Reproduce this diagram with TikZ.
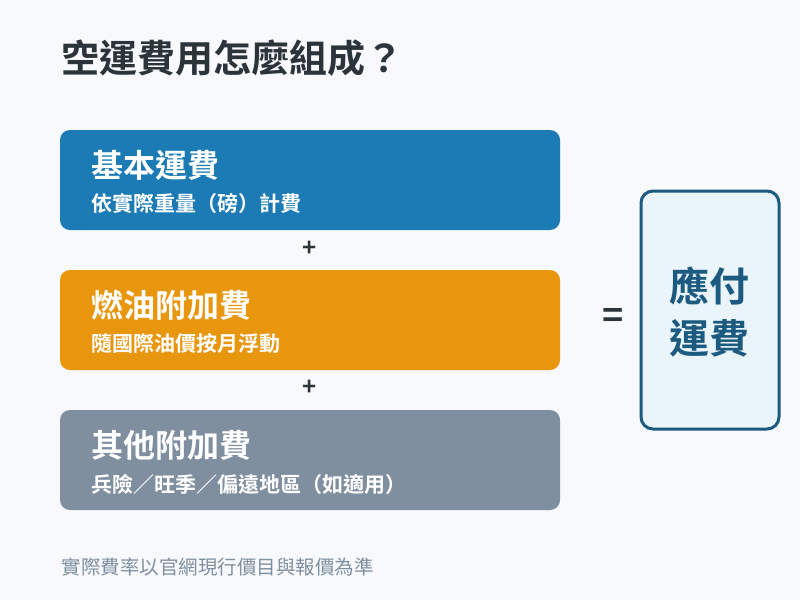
\documentclass[tikz,border=0pt]{standalone}
\usepackage{fontspec}
\setmainfont{Noto Sans CJK TC}[BoldFont={* Bold}]
\definecolor{bg}{HTML}{F7F9FC}
\definecolor{cblue}{HTML}{1C7BB5}
\definecolor{corange}{HTML}{E8960E}
\definecolor{cgray}{HTML}{7F8FA0}
\definecolor{dark}{HTML}{2B333B}
\definecolor{navy}{HTML}{1C5A80}
\definecolor{lightb}{HTML}{EAF4FB}
\begin{document}
\begin{tikzpicture}[x=1pt,y=-1pt,
  box/.style={rounded corners=10pt,draw=none},
  ttl/.style={anchor=west,text=white,font=\bfseries\fontsize{32}{34}\selectfont},
  sub/.style={anchor=west,text=white,font=\bfseries\fontsize{21}{23}\selectfont},
  op/.style={text=dark,font=\bfseries\fontsize{24}{26}\selectfont}]
\fill[bg] (0,0) rectangle (800,600);
\useasboundingbox (0,0) rectangle (800,600);
\node[anchor=west,text=dark,font=\bfseries\fontsize{38}{40}\selectfont] (title) at (58,58) {空運費用怎麼組成？};
\fill[box,cblue] (60,130) rectangle (560,230);
\node[ttl] (t1) at (88,165) {基本運費};
\node[sub] (s1) at (88,204) {依實際重量（磅）計費};
\node[op] (p1) at (310,249) {+};
\fill[box,corange] (60,270) rectangle (560,370);
\node[ttl] (t2) at (88,305) {燃油附加費};
\node[sub] (s2) at (88,344) {隨國際油價按月浮動};
\node[op] (p2) at (310,388) {+};
\fill[box,cgray] (60,410) rectangle (560,510);
\node[ttl] (t3) at (88,445) {其他附加費};
\node[sub] (s3) at (88,484) {兵險／旺季／偏遠地區（如適用）};
\node[text=dark,font=\bfseries\fontsize{36}{38}\selectfont] (eq) at (613,318) {=};
\draw[line width=3pt,draw=navy,fill=lightb,rounded corners=12pt] (641,191) rectangle (779,429);
\node[text=navy,align=center,font=\bfseries\fontsize{40}{52}\selectfont] (res) at (709,312) {應付\\運費};
\node[anchor=west,text=cgray,font=\fontsize{19.5}{21}\selectfont] (note) at (58,567) {實際費率以官網現行價目與報價為準};
\end{tikzpicture}
\end{document}
